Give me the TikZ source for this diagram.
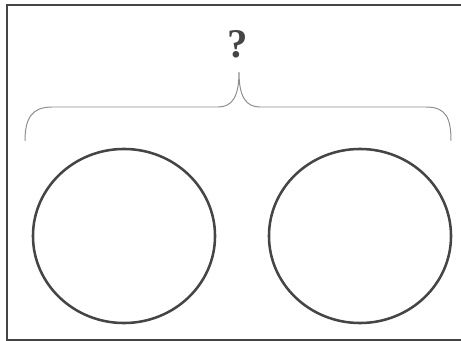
\documentclass[tikz,border=0pt]{standalone}
\usepackage{tikz}
\usepackage{fontspec}
\setmainfont{Liberation Serif}
\usetikzlibrary{shapes.geometric}
\definecolor{trait}{HTML}{454545}
\definecolor{gris}{HTML}{8E8E8E}
\tikzset{epais/.style={line width=1.8pt}}
\newcommand{\ensemble}[2]{\node[draw=trait,epais,ellipse,minimum width=4.55cm,
 	minimum height=4.35cm,inner sep=0pt] (#1) at (#2) {}}

\begin{document}
\begin{tikzpicture}[x=0.025cm,y=-0.025cm]
	\useasboundingbox (0,0) rectangle (461,341);
	\draw[trait,line width=1.1pt] (7,5) rectangle (464,340);
	\node[text=trait,font=\fontsize{29}{31}\selectfont\bfseries] (q) at (238,44) {?};
	% accolade
	\draw[gris,line width=0.7pt] (25,141) .. controls (25,118) and (32,107) .. (52,107)
		-- (218,107) .. controls (232,107) and (239,97) .. (239,72)
		.. controls (239,97) and (246,107) .. (260,107)
		-- (426,107) .. controls (446,107) and (451,118) .. (451,141);
	\ensemble{gauche}{124,236};
	\ensemble{droite}{360,236};
\end{tikzpicture}
\end{document}
